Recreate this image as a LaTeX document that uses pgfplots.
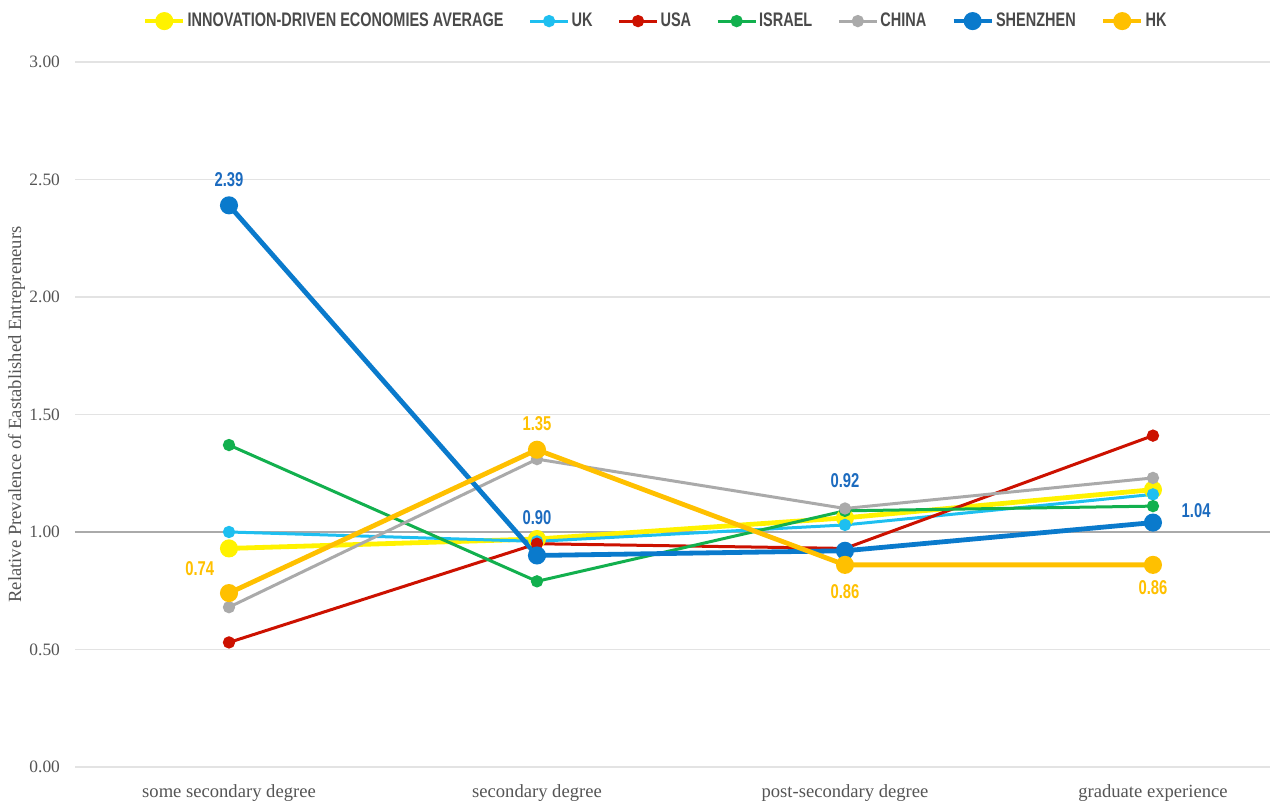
\documentclass[border=0pt]{standalone}
\usepackage{fontspec}
\setmainfont{Liberation Serif}
\newfontfamily\condfont[FakeStretch=0.74]{Liberation Sans}
\usepackage{pgfplots}
\usepackage{pgfplotstable}
\pgfplotsset{compat=1.18}
\definecolor{cavg}{HTML}{FFF200}
\definecolor{cuk}{HTML}{1EBFF0}
\definecolor{cusa}{HTML}{CC1100}
\definecolor{cisr}{HTML}{12B04E}
\definecolor{cchn}{HTML}{AAAAAA}
\definecolor{csz}{HTML}{0A7ACC}
\definecolor{chk}{HTML}{FFC000}
\definecolor{lblue}{HTML}{1C6BBF}
\definecolor{gridc}{HTML}{E3E3E3}
\definecolor{tickc}{HTML}{555555}
\definecolor{legc}{HTML}{4A4A4A}
\pgfplotstableread{
x avg uk usa isr chn sz hk
0 0.93 1.00 0.53 1.37 0.68 2.39 0.74
1 0.97 0.96 0.95 0.79 1.31 0.90 1.35
2 1.06 1.03 0.93 1.09 1.10 0.92 0.86
3 1.18 1.16 1.41 1.11 1.23 1.04 0.86
}\datatable
\begin{document}
\begin{tikzpicture}
\begin{axis}[
  scale only axis, width=597.5pt, height=352.5pt,
  xmin=-0.5, xmax=3.38, ymin=0, ymax=3,
  xtick={0,1,2,3},
  xticklabels={some secondary degree, secondary degree, post-secondary degree, graduate experience},
  ytick={0,0.5,1,1.5,2,2.5,3},
  /pgf/number format/fixed, /pgf/number format/fixed zerofill, /pgf/number format/precision=2,
  /pgf/number format/assume math mode=true,
  xticklabel style={yshift=-5.5pt, font=\fontsize{9.3}{10}\selectfont},
  yticklabel style={xshift=-4pt, font=\fontsize{8.7}{10}\selectfont},
  ymajorgrids, grid style={color=gridc, line width=0.6pt},
  axis line style={draw=none}, major tick length=0pt,
  tick label style={color=tickc},
  ylabel={Relative Prevalence of Eastablished Entrepreneurs},
  ylabel style={at={(axis description cs:-0.049,0.5)}, anchor=center, font=\fontsize{9.3}{10}\selectfont, color=tickc},
  legend columns=-1,
  legend style={at={(0.486,1.058)}, anchor=center, draw=none, fill=none,
    font=\condfont\bfseries\fontsize{9.8}{10}\selectfont, text=legc,
    /tikz/every even column/.append style={column sep=11.5pt},
    nodes={inner xsep=1pt},
    inner sep=0pt},
  legend image code/.code={\draw[mark repeat=2,mark phase=2] plot coordinates {(0pt,0pt)(9.5pt,0pt)(19pt,0pt)};},
  clip=false,
]
\addplot[color=cchn, line width=1.2pt, forget plot] coordinates {(-0.5,1) (3.38,1)};
\addplot[color=cavg, line width=2.4pt, mark=*, mark size=3.3pt] table[x=x,y=avg]{\datatable};
\addlegendentry{INNOVATION-DRIVEN ECONOMIES AVERAGE}
\addplot[color=cuk, line width=1.5pt, mark=*, mark size=2.3pt] table[x=x,y=uk]{\datatable};
\addlegendentry{UK}
\addplot[color=cusa, line width=1.5pt, mark=*, mark size=2.3pt] table[x=x,y=usa]{\datatable};
\addlegendentry{USA}
\addplot[color=cisr, line width=1.5pt, mark=*, mark size=2.3pt] table[x=x,y=isr]{\datatable};
\addlegendentry{ISRAEL}
\addplot[color=cchn, line width=1.5pt, mark=*, mark size=2.3pt] table[x=x,y=chn]{\datatable};
\addlegendentry{CHINA}
\addplot[color=csz, line width=2.4pt, mark=*, mark size=3.3pt] table[x=x,y=sz]{\datatable};
\addlegendentry{SHENZHEN}
\addplot[color=chk, line width=2.4pt, mark=*, mark size=3.3pt] table[x=x,y=hk]{\datatable};
\addlegendentry{HK}
\begin{scope}[every node/.style={font=\condfont\bfseries\fontsize{10}{11}\selectfont}]
\node[text=lblue] at (axis cs:0,2.50) {2.39};
\node[text=lblue] at (axis cs:1,1.06) {0.90};
\node[text=lblue] at (axis cs:2,1.22) {0.92};
\node[text=lblue] at (axis cs:3.14,1.09) {1.04};
\node[text=chk] at (axis cs:-0.095,0.845) {0.74};
\node[text=chk] at (axis cs:1,1.46) {1.35};
\node[text=chk] at (axis cs:2,0.745) {0.86};
\node[text=chk] at (axis cs:3,0.765) {0.86};
\end{scope}
\end{axis}
\path[use as bounding box] ([xshift=-37.5pt,yshift=-19.5pt]current axis.south west) rectangle ([xshift=2pt,yshift=31pt]current axis.north east);
\end{tikzpicture}
\end{document}
